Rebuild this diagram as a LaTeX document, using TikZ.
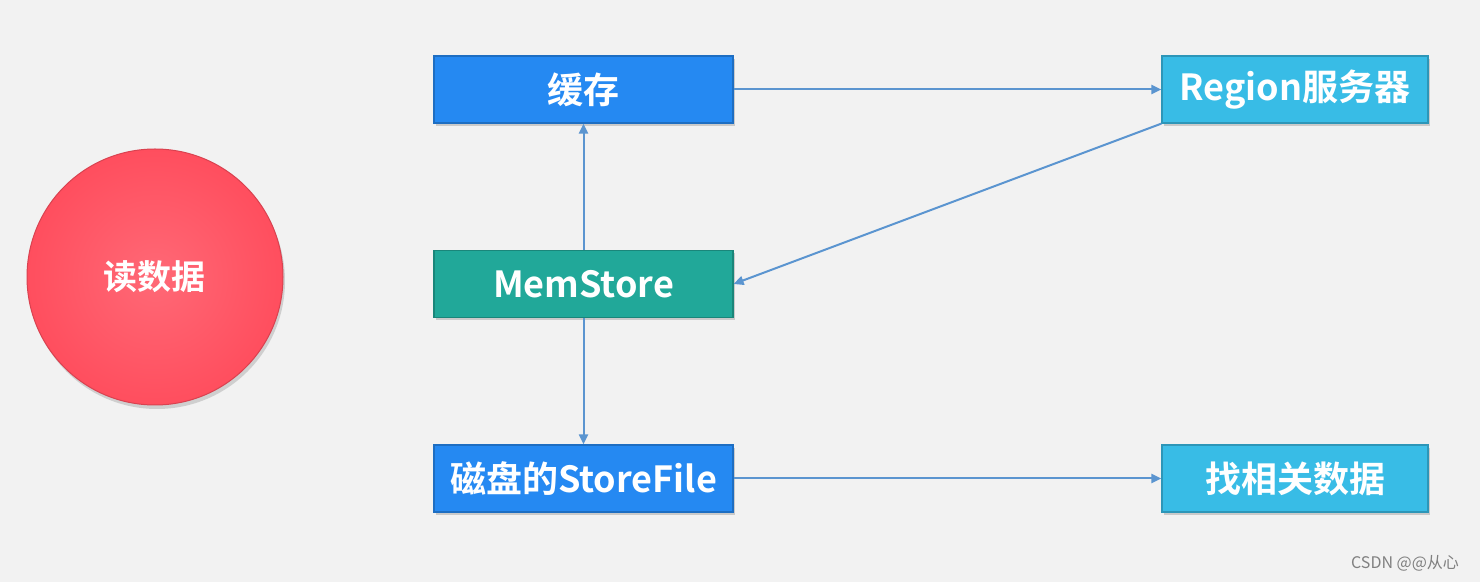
\documentclass[tikz,border=0pt]{standalone}
\usepackage{fontspec}
\newfontfamily\cjk{Noto Sans CJK SC}[BoldFont={Noto Sans CJK SC Bold}]
\usetikzlibrary{arrows.meta,shadows}
\definecolor{bg}{HTML}{F2F2F2}
\definecolor{bluebox}{HTML}{2589F2}
\definecolor{cyanbox}{HTML}{38BCE6}
\definecolor{tealbox}{HTML}{21A899}
\definecolor{redc}{HTML}{FF4E5E}
\definecolor{arr}{HTML}{5B95D0}
\begin{document}
\begin{tikzpicture}[x=0.5pt,y=-0.5pt,
  box/.style={draw=#1!80!black,line width=0.6pt,fill=#1,minimum width=149.5pt,minimum height=33.5pt,inner sep=0pt,
    font=\cjk\bfseries\fontsize{18}{21}\selectfont,text=white,
    drop shadow={shadow xshift=1pt,shadow yshift=-1.5pt,opacity=0.35}},
  sbox/.style={box=#1,minimum width=133pt},
  con/.style={draw=arr,line width=1pt,-{Triangle[length=5pt,width=4.5pt]}}]
\fill[bg] (0,0) rectangle (1480,582);
\useasboundingbox (0,0) rectangle (1480,582);
\node[circle,minimum size=128pt,inner sep=0pt,shading=radial,inner color=redc!85!white,outer color=redc,
  draw=redc!85!black,line width=0.5pt,drop shadow={shadow xshift=1pt,shadow yshift=-2pt,opacity=0.3},
  font=\cjk\bfseries\fontsize{17}{20}\selectfont,text=white] (read) at (155,277) {读数据};
\node[box=bluebox] (cache) at (583.5,89.5) {缓存};
\node[box=tealbox] (mem) at (583.5,284) {MemStore};
\node[box=bluebox] (disk) at (583.5,478.5) {磁盘的StoreFile};
\node[sbox=cyanbox] (region) at (1295,89.5) {Region服务器};
\node[sbox=cyanbox] (find) at (1295,478.5) {找相关数据};
\draw[con] (cache) -- (region);
\draw[con] (region.south west) -- (mem.east);
\draw[con] (mem) -- (cache);
\draw[con] (mem) -- (disk);
\draw[con] (disk) -- (find);
\node[font=\cjk\fontsize{8}{10}\selectfont,text=gray,anchor=east] (wm) at (1466,563) {CSDN @@从心};
\end{tikzpicture}
\end{document}
